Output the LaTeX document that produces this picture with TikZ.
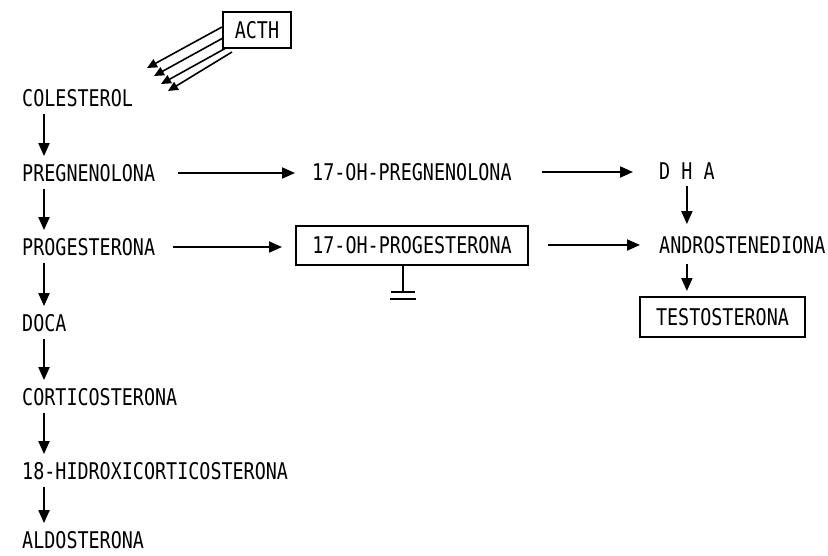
\documentclass[tikz,border=0pt]{standalone}
\usepackage{fontspec}
\setmainfont{DejaVu Sans Mono}[FakeStretch=0.8]
\usetikzlibrary{
    arrows.meta,
    positioning,
    calc
}

\begin{document}
\begin{tikzpicture}[
    x=1pt, y=1pt,
    font={\fontsize{23pt}{28pt}\selectfont},
    steroid/.style={inner sep=0pt, anchor=west},
    enzbox/.style={draw, line width=2pt, inner sep=0pt, minimum height=39pt},
    conv/.style={-{Triangle[length=13pt,width=11pt]}, line width=2pt},
    stim/.style={-{Triangle[length=10pt,width=9pt]}, line width=1.6pt}
]

\useasboundingbox (0,0) rectangle (828,-555);

% stimulus
\node[
    enzbox,
    minimum width=68pt,
    minimum height=36pt
] (acth) at (257,-30) {ACTH};

% mineralocorticoid pathway
\node[steroid] (colesterol) at (22,-98) {COLESTEROL};

\node[
    steroid,
    below=75pt of colesterol.west,
    anchor=west
] (pregnenolona) {PREGNENOLONA};

\node[
    steroid,
    below=74pt of pregnenolona.west,
    anchor=west
] (progesterona) {PROGESTERONA};

\node[
    steroid,
    below=76pt of progesterona.west,
    anchor=west
] (doca) {DOCA};

\node[
    steroid,
    below=74pt of doca.west,
    anchor=west
] (corticosterona) {CORTICOSTERONA};

\node[
    steroid,
    below=74pt of corticosterona.west,
    anchor=west
] (hidroxi) {18-HIDROXICORTICOSTERONA};

\node[
    steroid,
    below=69pt of hidroxi.west,
    anchor=west
] (aldosterona) {ALDOSTERONA};

% 17-hydroxylated and androgen pathway
\node[steroid] (ohpreg) at (312,-172) {17-OH-PREGNENOLONA};

\node[
    enzbox,
    minimum width=232pt
] (ohprog) at (412,-245) {17-OH-PROGESTERONA};

\node[steroid] (dha) at (659,-171) {D H A};

\node[
    steroid,
    below=74pt of dha.west,
    anchor=west
] (andro) {ANDROSTENEDIONA};

\node[
    enzbox,
    minimum width=165pt,
    minimum height=40pt
] (testo) at (722.5,-317) {TESTOSTERONA};

% ACTH stimulation
\foreach \i/\sx/\sy/\tx/\ty in {1/0/22/147/-68, 2/1/11/154/-76, 3/4/1/161/-84, 4/10/-3/168/-91} {
    \coordinate (tip\i) at (\tx,\ty);
    \draw[stim] ($(acth.south west)+(\sx,\sy)$) -- (tip\i);
}

% conversions
\foreach \a/\b in {colesterol/pregnenolona, pregnenolona/progesterona, progesterona/doca, doca/corticosterona, corticosterona/hidroxi, hidroxi/aldosterona}
    \draw[conv, shorten <=7pt, shorten >=8pt] ([xshift=22pt]\a.south west) -- ([xshift=22pt]\b.north west);

\draw[conv, shorten <=23pt, shorten >=17pt] (pregnenolona.east) -- (pregnenolona.east -| ohpreg.west);
\draw[conv, shorten <=30pt, shorten >=26pt] (ohpreg.east) -- (ohpreg.east -| dha.west);
\draw[conv, shorten <=18pt, shorten >=13pt] (progesterona.east) -- (progesterona.east -| ohprog.west);
\draw[conv, shorten <=19pt, shorten >=19pt] (ohprog.east) -- (ohprog.east -| andro.west);
\draw[conv, shorten <=6pt, shorten >=12pt] (dha.south) -- (dha.south |- andro.north);
\draw[conv, shorten <=10pt, shorten >=5pt] (dha.south |- andro.south) -- (dha.south |- testo.north);

% block
\coordinate (inhib) at ($(ohprog.south)+(-9,-26)$);
\draw[line width=2pt] (ohprog.south -| inhib) -- (inhib);
\draw[line width=2pt] ($(inhib)+(-12,0)$) -- ++(24,0);
\draw[line width=2pt] ($(inhib)+(-13,-7)$) -- ++(26,0);

\end{tikzpicture}
\end{document}
